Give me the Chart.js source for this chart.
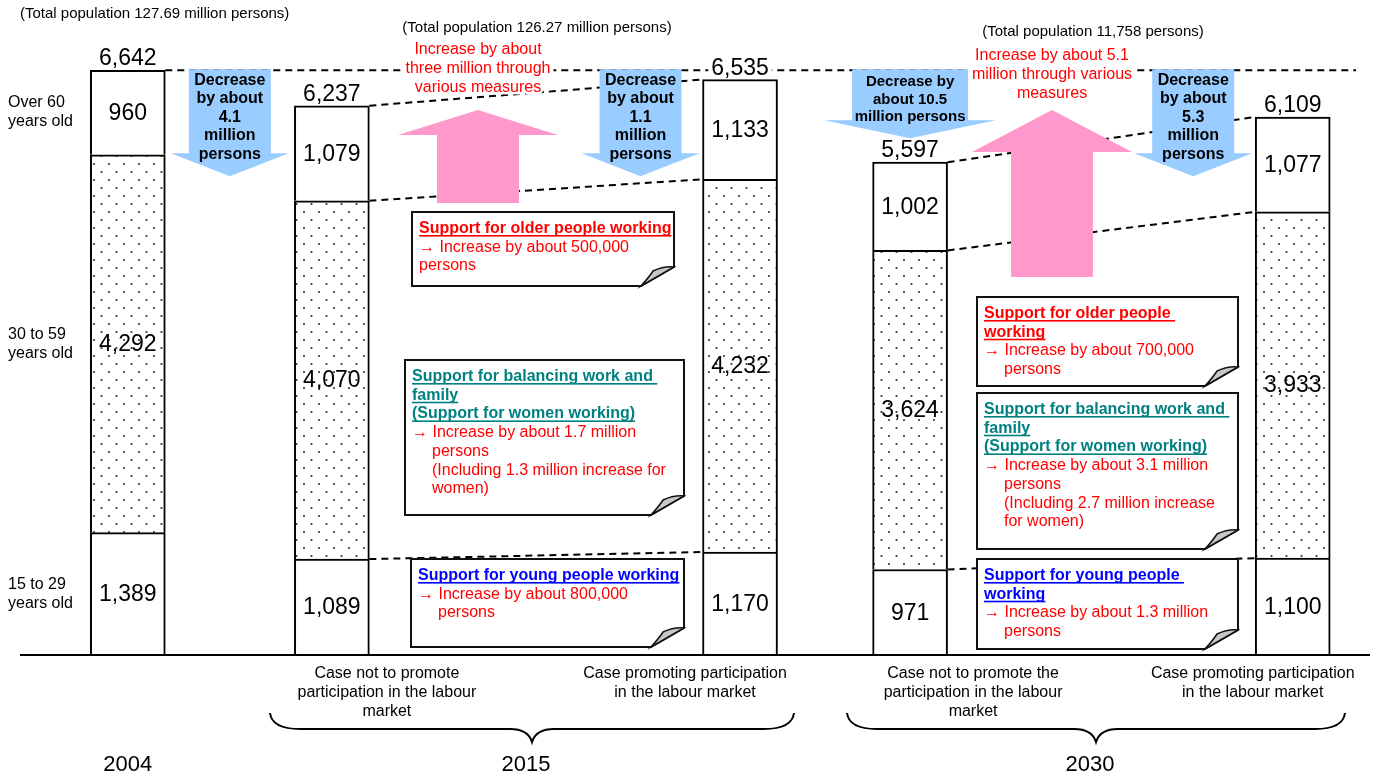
<!DOCTYPE html>
<html>
<head>
<meta charset="utf-8">
<title>Labour force projection by age group</title>
<script src="https://cdn.jsdelivr.net/npm/chart.js@4.4.1/dist/chart.umd.min.js"></script>
<style>
  html, body { margin: 0; padding: 0; background: #fff; }
  #wrap { position: relative; width: 1373px; height: 778px; }
</style>
</head>
<body>
<div id="wrap"><canvas id="labourChart"></canvas></div>
<script>
// labour force, in 10,000 persons
const scenarios = ['2004', '2015 no promotion', '2015 promotion', '2030 no promotion', '2030 promotion'];
const age15to29 = [1389, 1089, 1170, 971, 1100];
const age30to59 = [4292, 4070, 4232, 3624, 3933];
const age60plus = [960, 1079, 1133, 1002, 1077];
const totals = [6642, 6237, 6535, 5597, 6109];

const ageLabels = [['15 to 29', 'years old'], ['30 to 59', 'years old'], ['Over 60', 'years old']];
const caseLabels = [
  [],
  ['Case not to promote', 'participation in the labour', 'market'],
  ['Case promoting participation', 'in the labour market'],
  ['Case not to promote the', 'participation in the labour', 'market'],
  ['Case promoting participation', 'in the labour market']
];
const years = ['2004', '2015', '2030'];
const populationNotes = [
  '(Total population 127.69 million persons)',
  '(Total population 126.27 million persons)',
  '(Total population 11,758 persons)'
];
const decreaseNotes = [
  ['Decrease', 'by about', '4.1', 'million', 'persons'],
  ['Decrease', 'by about', '1.1', 'million', 'persons'],
  ['Decrease by', 'about 10.5', 'million persons'],
  ['Decrease', 'by about', '5.3', 'million', 'persons']
];
const increaseNotes = [
  ['Increase by about', 'three million through', 'various measures'],
  ['Increase by about 5.1', 'million through various', 'measures']
];
const supportNotes = [
  { title: ['Support for older people working'], kind: 'older',
    body: ['\u2192 Increase by about 500,000', 'persons'], hang: false },
  { title: ['Support for balancing work and ', 'family', '(Support for women working)'], kind: 'family',
    body: ['\u2192 Increase by about 1.7 million', 'persons', '(Including 1.3 million increase for', 'women)'], hang: true },
  { title: ['Support for young people working'], kind: 'young',
    body: ['\u2192 Increase by about 800,000', 'persons'], hang: true },
  { title: ['Support for older people ', 'working'], kind: 'older',
    body: ['\u2192 Increase by about 700,000', 'persons'], hang: true },
  { title: ['Support for balancing work and ', 'family', '(Support for women working)'], kind: 'family',
    body: ['\u2192 Increase by about 3.1 million', 'persons', '(Including 2.7 million increase', 'for women)'], hang: true },
  { title: ['Support for young people ', 'working'], kind: 'young',
    body: ['\u2192 Increase by about 1.3 million', 'persons'], hang: true }
];

// layout: bars sit in slots of a wide category axis
const slotCount = 159;
const barSlots = [13, 37, 85, 105, 150];
const notePlacement = [
  [412, 212, 674, 286], [405, 360, 684, 515], [411, 559, 684, 647],
  [977, 297, 1238, 386], [977, 393, 1238, 549], [977, 559, 1238, 649]
];
const titleColors = { older: '#ff0000', family: '#008080', young: '#0000ff' };
const FONT = '"Liberation Sans", Arial, sans-serif';
const BLUE = '#99ccff';
const PINK = '#ff99cc';

function font(size, bold) { return (bold ? 'bold ' : '') + size + 'px ' + FONT; }

function spread(values) {
  const out = new Array(slotCount).fill(null);
  barSlots.forEach((s, i) => { out[s] = values[i]; });
  return out;
}

const slotLabels = new Array(slotCount).fill('');
barSlots.forEach((s, i) => { slotLabels[s] = scenarios[i]; });

// dotted fill for the middle age group
function dotPattern() {
  const tile = document.createElement('canvas');
  tile.width = 15; tile.height = 16;
  const c = tile.getContext('2d');
  c.fillStyle = '#fff';
  c.fillRect(0, 0, 15, 16);
  c.fillStyle = '#333';
  [[4, 4], [11.5, 12]].forEach(([x, y]) => { c.beginPath(); c.arc(x, y, 1.1, 0, Math.PI * 2); c.fill(); });
  return c.createPattern(tile, 'repeat');
}

function dashed(ctx, x1, y1, x2, y2) {
  ctx.save();
  ctx.strokeStyle = '#000';
  ctx.lineWidth = 2;
  ctx.setLineDash([7, 5]);
  ctx.beginPath();
  ctx.moveTo(x1, y1);
  ctx.lineTo(x2, y2);
  ctx.stroke();
  ctx.restore();
}

function blockArrow(ctx, cx, top, bottom, shaftW, headW, headLen, color, up) {
  ctx.save();
  ctx.fillStyle = color;
  ctx.beginPath();
  if (up) {
    const hb = top + headLen;
    ctx.moveTo(cx, top);
    ctx.lineTo(cx + headW / 2, hb);
    ctx.lineTo(cx + shaftW / 2, hb);
    ctx.lineTo(cx + shaftW / 2, bottom);
    ctx.lineTo(cx - shaftW / 2, bottom);
    ctx.lineTo(cx - shaftW / 2, hb);
    ctx.lineTo(cx - headW / 2, hb);
  } else {
    const hb = bottom - headLen;
    ctx.moveTo(cx - shaftW / 2, top);
    ctx.lineTo(cx + shaftW / 2, top);
    ctx.lineTo(cx + shaftW / 2, hb);
    ctx.lineTo(cx + headW / 2, hb);
    ctx.lineTo(cx, bottom);
    ctx.lineTo(cx - headW / 2, hb);
    ctx.lineTo(cx - shaftW / 2, hb);
  }
  ctx.closePath();
  ctx.fill();
  ctx.restore();
}

function textLines(ctx, lines, x, y, lh, align, halo) {
  ctx.textAlign = align || 'center';
  ctx.textBaseline = 'middle';
  lines.forEach((t, i) => {
    if (halo) {
      ctx.save();
      ctx.strokeStyle = '#fff';
      ctx.lineWidth = 5;
      ctx.lineJoin = 'round';
      ctx.strokeText(t, x, y + i * lh);
      ctx.restore();
    }
    ctx.fillText(t, x, y + i * lh);
  });
}

function noteBox(ctx, note, place) {
  const [x0, y0, x1, y1] = place;
  ctx.save();
  ctx.beginPath();
  ctx.moveTo(x0, y0);
  ctx.lineTo(x1, y0);
  ctx.lineTo(x1, y1 - 19);
  ctx.lineTo(x1 - 33, y1);
  ctx.lineTo(x0, y1);
  ctx.closePath();
  ctx.fillStyle = '#fff';
  ctx.fill();
  ctx.lineWidth = 2;
  ctx.strokeStyle = '#111';
  ctx.stroke();
  // curled corner
  ctx.beginPath();
  ctx.moveTo(x1 - 33, y1);
  ctx.quadraticCurveTo(x1 - 24, y1 - 10, x1 - 21, y1 - 15);
  ctx.quadraticCurveTo(x1 - 10, y1 - 20, x1, y1 - 19);
  ctx.closePath();
  ctx.fillStyle = '#c8c8c8';
  ctx.fill();
  ctx.lineWidth = 1.5;
  ctx.stroke();

  const lh = 18.7;
  const tx = x0 + 7;
  let base = y0 + 21;
  ctx.textAlign = 'left';
  ctx.textBaseline = 'alphabetic';
  ctx.font = font(16, true);
  ctx.fillStyle = titleColors[note.kind];
  note.title.forEach(t => {
    ctx.fillText(t, tx, base);
    ctx.fillRect(tx, base + 2, ctx.measureText(t).width, 1.6);
    base += lh;
  });
  ctx.font = font(16, false);
  ctx.fillStyle = '#ff0000';
  note.body.forEach((t, i) => {
    ctx.fillText(t, i > 0 && note.hang ? tx + 20 : tx, base);
    base += lh;
  });
  ctx.restore();
}

function brace(ctx, x0, x1, xm) {
  const yTop = 713, yMid = 729, yTip = 742;
  ctx.save();
  ctx.strokeStyle = '#000';
  ctx.lineWidth = 2;
  ctx.beginPath();
  ctx.moveTo(x0, yTop);
  ctx.quadraticCurveTo(x0 + 2, yMid, x0 + 30, yMid);
  ctx.lineTo(xm - 22, yMid);
  ctx.quadraticCurveTo(xm - 4, yMid, xm, yTip);
  ctx.quadraticCurveTo(xm + 4, yMid, xm + 22, yMid);
  ctx.lineTo(x1 - 30, yMid);
  ctx.quadraticCurveTo(x1 - 2, yMid, x1, yTop);
  ctx.stroke();
  ctx.restore();
}

const annotations = {
  id: 'annotations',
  afterDatasetsDraw(chart) {
    const ctx = chart.ctx;
    const metas = [0, 1, 2].map(d => chart.getDatasetMeta(d).data);
    const bars = barSlots.map(s => ({
      x: metas[0][s].x,
      half: metas[0][s].width / 2,
      edges: [metas[0][s].base, metas[0][s].y, metas[1][s].y, metas[2][s].y]
    }));
    const topY = bars[0].edges[3];

    ctx.save();
    // level of the 2004 total and the links between paired cases
    dashed(ctx, bars[0].x + bars[0].half, topY, 1356, topY);
    [[1, 2], [3, 4]].forEach(([a, b]) => {
      [1, 2, 3].forEach(k => dashed(ctx, bars[a].x + bars[a].half, bars[a].edges[k],
                                     bars[b].x - bars[b].half, bars[b].edges[k]));
    });

    // totals above bars
    ctx.font = font(23, false);
    bars.forEach((b, i) => {
      const t = totals[i].toLocaleString('en-US');
      const w = ctx.measureText(t).width;
      ctx.fillStyle = '#fff';
      ctx.fillRect(b.x - w / 2 - 3, b.edges[3] - 25, w + 6, 21);
      ctx.fillStyle = '#000';
      ctx.textAlign = 'center';
      ctx.textBaseline = 'alphabetic';
      ctx.fillText(t, b.x, b.edges[3] - 5);
    });

    // values inside the segments
    bars.forEach((b, i) => {
      const vals = [age15to29[i], age30to59[i], age60plus[i]];
      vals.forEach((v, k) => {
        ctx.fillStyle = '#000';
        ctx.font = font(23, false);
        ctx.textAlign = 'center';
        ctx.textBaseline = 'middle';
        ctx.fillText(v.toLocaleString('en-US'), b.x, (b.edges[k] + b.edges[k + 1]) / 2 + 1);
      });
    });

    // increases through policy measures
    const pinkX = [478, 1052];
    const pinkTextY = [50, 56];
    const pinkBottom = [203, 277];
    const pinkHead = [25, 42];
    pinkX.forEach((cx, i) => {
      blockArrow(ctx, cx, 110, pinkBottom[i], 82, 160, pinkHead[i], PINK, true);
      ctx.font = font(16, false);
      const w = Math.max(...increaseNotes[i].map(t => ctx.measureText(t).width));
      // break the level line behind the note
      ctx.fillStyle = '#fff';
      ctx.fillRect(cx - w / 2 - 3, topY - 3, w + 6, 6);
      ctx.fillStyle = '#ff0000';
      textLines(ctx, increaseNotes[i], cx, pinkTextY[i], 19, 'center', true);
    });

    // decreases without policy measures
    const sideArrows = [
      { note: 0, cx: (bars[0].x + bars[0].half + bars[1].x - bars[1].half) / 2 },
      { note: 1, cx: bars[2].x - bars[2].half - 62 },
      { note: 3, cx: bars[4].x - bars[4].half - 62 }
    ];
    sideArrows.forEach(a => {
      const top = topY - 1;
      blockArrow(ctx, a.cx, top, top + 107, 82, 118, 23, BLUE, false);
      ctx.fillStyle = '#000';
      ctx.font = font(16, true);
      textLines(ctx, decreaseNotes[a.note], a.cx, top + 11, 18.5);
    });
    {
      const b = bars[3];
      const top = topY - 1;
      const bottom = b.edges[3] - 24;
      blockArrow(ctx, b.x, top, bottom, 116, 172, 18, BLUE, false);
      ctx.fillStyle = '#000';
      ctx.font = font(15, true);
      textLines(ctx, decreaseNotes[2], b.x, top + 13, 17.5);
    }

    // population notes
    ctx.fillStyle = '#000';
    ctx.font = font(15, false);
    ctx.textBaseline = 'middle';
    ctx.textAlign = 'left';
    ctx.fillText(populationNotes[0], 20, 14);
    ctx.textAlign = 'center';
    ctx.fillText(populationNotes[1], 537, 28);
    ctx.fillText(populationNotes[2], 1093, 32);

    // policy boxes
    supportNotes.forEach((n, i) => noteBox(ctx, n, notePlacement[i]));

    // age groups beside the first bar
    ctx.fillStyle = '#000';
    ctx.font = font(16, false);
    ageLabels.forEach((lines, k) => {
      const mid = (bars[0].edges[k] + bars[0].edges[k + 1]) / 2;
      textLines(ctx, lines, 8, mid - 9.5, 19, 'left');
    });

    // base line
    ctx.strokeStyle = '#000';
    ctx.lineWidth = 2;
    ctx.beginPath();
    ctx.moveTo(20, bars[0].edges[0]);
    ctx.lineTo(1370, bars[0].edges[0]);
    ctx.stroke();

    // case captions, braces and years
    const captionShift = [0, 55, -55, 63, -40];
    ctx.fillStyle = '#000';
    ctx.font = font(16, false);
    caseLabels.forEach((lines, i) => textLines(ctx, lines, bars[i].x + captionShift[i], 674, 19));
    brace(ctx, 270, 794, 532);
    brace(ctx, 847, 1345, 1096);
    ctx.font = font(22, false);
    textLines(ctx, [years[0]], bars[0].x, 765, 0);
    textLines(ctx, [years[1]], 526, 765, 0);
    textLines(ctx, [years[2]], 1090, 765, 0);
    ctx.restore();
  }
};

const barStyle = { borderColor: '#000', borderWidth: 2, barThickness: 75 };

new Chart(document.getElementById('labourChart').getContext('2d'), {
  type: 'bar',
  data: {
    labels: slotLabels,
    datasets: [
      Object.assign({ label: '15 to 29 years old', data: spread(age15to29), backgroundColor: '#fff' }, barStyle),
      Object.assign({ label: '30 to 59 years old', data: spread(age30to59), backgroundColor: dotPattern() }, barStyle),
      Object.assign({ label: 'Over 60 years old', data: spread(age60plus), backgroundColor: '#fff' }, barStyle)
    ]
  },
  options: {
    responsive: true,
    maintainAspectRatio: false,
    animation: false,
    events: [],
    layout: { padding: { left: 13, right: 8, top: 21, bottom: 123 } },
    scales: {
      x: { stacked: true, display: false, grid: { display: false } },
      y: { stacked: true, display: false, min: 0, max: 7200, grid: { display: false } }
    },
    plugins: {
      legend: { display: false },
      tooltip: { enabled: false }
    }
  },
  plugins: [annotations]
});
</script>
</body>
</html>
